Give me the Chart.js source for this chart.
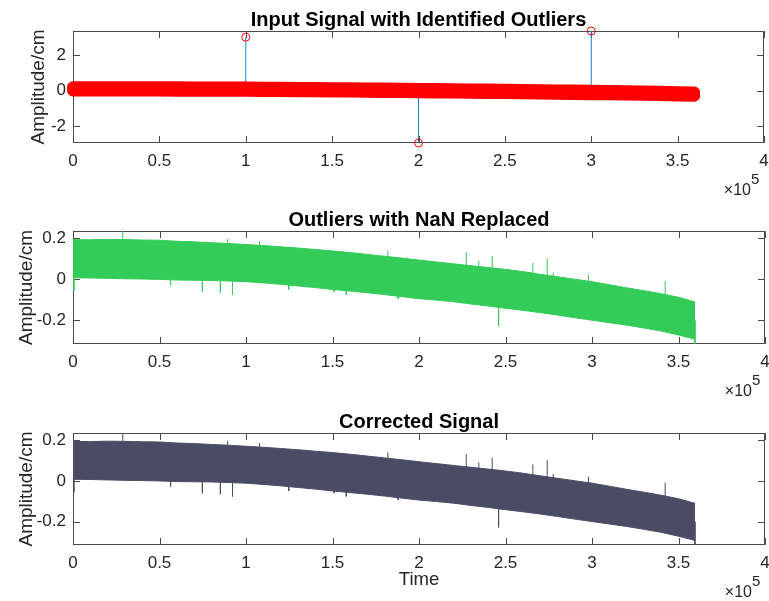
<!DOCTYPE html>
<html>
<head>
<meta charset="utf-8">
<script src="https://cdn.jsdelivr.net/npm/chart.js@4.4.0/dist/chart.umd.min.js"></script>
<style>
  html, body { margin: 0; padding: 0; background: #fff; }
  body { width: 769px; height: 601px; position: relative; overflow: hidden; }
  .panel { position: absolute; left: 0; width: 769px; }
</style>
</head>
<body>
<div class="panel" style="top:0;height:200px"><canvas id="input-chart" width="769" height="200"></canvas></div>
<div class="panel" style="top:200px;height:200px"><canvas id="nan-chart" width="769" height="200"></canvas></div>
<div class="panel" style="top:402px;height:199px"><canvas id="corrected-chart" width="769" height="199"></canvas></div>
<script>
// sample index where the envelope of the signal was read
const sampleTimes = [0, 10000, 20000, 30000, 40000, 50000, 60000, 70000, 80000, 90000,
  100000, 110000, 120000, 130000, 140000, 150000, 160000, 170000, 180000, 190000,
  200000, 210000, 220000, 230000, 240000, 250000, 260000, 270000, 280000, 290000,
  300000, 310000, 320000, 330000, 340000, 350000, 359600];

// top and bottom edge of the oscillating signal band
const upperEnvelope = [0.194, 0.193, 0.195, 0.194, 0.192, 0.191, 0.186, 0.183, 0.179, 0.175,
  0.170, 0.165, 0.159, 0.153, 0.146, 0.139, 0.131, 0.122, 0.113, 0.104,
  0.094, 0.085, 0.076, 0.067, 0.058, 0.049, 0.038, 0.025, 0.013, 0.001,
  -0.011, -0.026, -0.041, -0.055, -0.070, -0.087, -0.110];
const lowerEnvelope = [0.008, 0.007, 0.005, 0.003, 0.002, 0.000, -0.003, -0.004, -0.005, -0.008,
  -0.011, -0.017, -0.024, -0.032, -0.040, -0.049, -0.057, -0.065, -0.074, -0.084,
  -0.094, -0.101, -0.109, -0.120, -0.130, -0.141, -0.151, -0.162, -0.174, -0.187,
  -0.199, -0.211, -0.223, -0.237, -0.252, -0.271, -0.292];

// short glitches left in the signal after the outliers were removed
const spikeTimes = [28800, 89400, 107800, 182000, 227300, 234600, 242300, 265800, 274100, 277600, 298000, 342300,
  500, 56400, 74800, 85200, 92200, 124700, 150900, 158000, 187900, 246000, 359500];
const spikeFrom = [0.15, 0.12, 0.12, 0.05, 0.02, 0.02, 0.02, -0.05, -0.05, -0.05, -0.08, -0.15,
  0.10, 0.05, 0.05, 0.05, 0.05, 0.00, 0.00, 0.00, -0.03, -0.08, -0.20];
const spikeTo = [0.236, 0.197, 0.186, 0.140, 0.132, 0.091, 0.114, 0.081, 0.102, 0.034, 0.021, -0.008,
  -0.057, -0.028, -0.060, -0.065, -0.076, -0.049, -0.060, -0.076, -0.093, -0.228, -0.314];

// points flagged as outliers in the raw input
const outlierTimes = [100000, 200000, 300000];
const outlierValues = [3.03, -2.97, 3.38];

const xTicks = [0, 50000, 100000, 150000, 200000, 250000, 300000, 350000, 400000];
const inputTicks = [-2, 0, 2];
const amplitudeTicks = [-0.2, 0, 0.2];

const textColor = '#262626';
const red = '#ff0000';
const stemBlue = '#1f80d0';
const green = '#33cc59';
const slate = '#4b4b66';

Chart.defaults.font.family = "'Liberation Sans', Arial, sans-serif";
Chart.defaults.color = textColor;

// box around the axes with inward ticks on all four sides
const axesBox = {
  id: 'axesBox',
  beforeDatasetsDraw(chart) {
    const { ctx, chartArea: a, scales: { x, y } } = chart;
    ctx.save();
    ctx.strokeStyle = '#4a4a4a';
    ctx.lineWidth = 1;
    ctx.beginPath();
    x.ticks.forEach(t => {
      const px = Math.round(x.getPixelForValue(t.value)) + 0.5;
      ctx.moveTo(px, a.bottom); ctx.lineTo(px, a.bottom - 7);
      ctx.moveTo(px, a.top); ctx.lineTo(px, a.top + 7);
    });
    y.ticks.forEach(t => {
      const py = Math.round(y.getPixelForValue(t.value)) + 0.5;
      ctx.moveTo(a.left, py); ctx.lineTo(a.left + 7, py);
      ctx.moveTo(a.right, py); ctx.lineTo(a.right - 7, py);
    });
    ctx.rect(Math.round(a.left) + 0.5, Math.round(a.top) + 0.5,
      Math.round(a.width) - 1, Math.round(a.height) - 1);
    ctx.stroke();
    ctx.restore();
  },
  // x10^5 exponent under the right end of the x axis
  afterDraw(chart) {
    const { ctx, chartArea: a } = chart;
    ctx.save();
    ctx.fillStyle = textColor;
    ctx.textBaseline = 'alphabetic';
    ctx.font = "16px 'Liberation Sans', Arial, sans-serif";
    ctx.textAlign = 'right';
    ctx.fillText('\u00d710', a.right - 13, a.bottom + 52);
    ctx.font = "15px 'Liberation Sans', Arial, sans-serif";
    ctx.textAlign = 'left';
    ctx.fillText('5', a.right - 13, a.bottom + 41);
    ctx.restore();
  }
};

const xScale = (axisHeight, withTitle) => ({
  type: 'linear',
  min: 0,
  max: 400000,
  afterBuildTicks: s => { s.ticks = xTicks.map(v => ({ value: v })); },
  afterFit: s => { s.height = axisHeight; s.paddingLeft = 0; s.paddingRight = 0; },
  grid: { display: false, drawTicks: false },
  border: { display: false },
  ticks: {
    autoSkip: false, maxRotation: 0, padding: 8, color: textColor,
    font: { size: 17 },
    callback: v => String(v / 1e5)
  },
  title: {
    display: withTitle, text: 'Time', color: textColor,
    font: { size: 18.5 }, padding: { top: 0, bottom: 10 }
  }
});

// titleGap pushes the y label clear of wider tick labels
const yScale = (min, max, ticks, titleGap) => ({
  min,
  max,
  afterBuildTicks: s => { s.ticks = ticks.map(v => ({ value: v })); },
  afterFit: s => { s.width = 73; },
  grid: { display: false, drawTicks: false },
  border: { display: false },
  ticks: { padding: 7, color: textColor, font: { size: 17 }, callback: v => String(v) },
  title: {
    display: true, text: 'Amplitude/cm', color: textColor,
    font: { size: 19 }, padding: { top: titleGap, bottom: 0 }
  }
});

const baseOptions = (titleText, axisHeight, withXTitle, yMin, yMax, yTicks, titleGap) => ({
  responsive: false,
  animation: false,
  devicePixelRatio: 1,
  events: [],
  layout: { padding: { left: 0, right: 4, top: 0, bottom: 0 } },
  plugins: {
    legend: { display: false },
    tooltip: { enabled: false },
    title: {
      display: true, text: titleText, color: '#000', fullSize: false,
      font: { size: 20, weight: 'bold', lineHeight: 1 },
      padding: { top: 10, bottom: 1 }
    }
  },
  scales: {
    x: xScale(axisHeight, withXTitle),
    y: yScale(yMin, yMax, yTicks, titleGap)
  }
});

const envelope = values => sampleTimes.map((t, i) => ({ x: t, y: values[i] }));

// each spike is a vertical segment, separated by gaps
const spikeSegments = () => {
  const pts = [];
  spikeTimes.forEach((t, i) => {
    pts.push({ x: t, y: spikeFrom[i] }, { x: t, y: spikeTo[i] }, { x: t, y: null });
  });
  return pts;
};

const stemSegments = () => {
  const pts = [];
  outlierTimes.forEach((t, i) => {
    pts.push({ x: t, y: 0 }, { x: t, y: outlierValues[i] }, { x: t, y: null });
  });
  return pts;
};

// raw signal drawn as thick red markers, outliers as stems with open circles
new Chart(document.getElementById('input-chart'), {
  type: 'line',
  data: {
    datasets: [
      {
        data: outlierTimes.map((t, i) => ({ x: t, y: outlierValues[i] })),
        showLine: false, pointRadius: 4, pointBorderWidth: 1,
        pointBorderColor: red, pointBackgroundColor: 'rgba(0,0,0,0)',
        clip: false, order: 0
      },
      {
        data: envelope(upperEnvelope), borderColor: red, borderWidth: 12,
        borderCapStyle: 'round', borderJoinStyle: 'round',
        pointRadius: 0, fill: false, clip: false, order: 1
      },
      {
        data: envelope(lowerEnvelope), borderColor: red, borderWidth: 12,
        borderCapStyle: 'round', borderJoinStyle: 'round', backgroundColor: red,
        pointRadius: 0, fill: '-1', clip: false, order: 1
      },
      {
        data: stemSegments(), borderColor: stemBlue, borderWidth: 1,
        pointRadius: 0, spanGaps: false, order: 3
      }
    ]
  },
  options: baseOptions('Input Signal with Identified Outliers', 57, false, -2.97, 3.38, inputTicks, 27),
  plugins: [axesBox]
});

const bandDatasets = color => [
  { data: envelope(upperEnvelope), borderColor: color, borderWidth: 1, pointRadius: 0, fill: false },
  { data: envelope(lowerEnvelope), borderColor: color, borderWidth: 1, backgroundColor: color, pointRadius: 0, fill: '-1' },
  { data: spikeSegments(), borderColor: color, borderWidth: 1, pointRadius: 0, spanGaps: false }
];

new Chart(document.getElementById('nan-chart'), {
  type: 'line',
  data: { datasets: bandDatasets(green) },
  options: baseOptions('Outliers with NaN Replaced', 56, false, -0.315, 0.236, amplitudeTicks, 15),
  plugins: [axesBox]
});

new Chart(document.getElementById('corrected-chart'), {
  type: 'line',
  data: { datasets: bandDatasets(slate) },
  options: baseOptions('Corrected Signal', 56, true, -0.314, 0.235, amplitudeTicks, 15),
  plugins: [axesBox]
});
</script>
</body>
</html>
